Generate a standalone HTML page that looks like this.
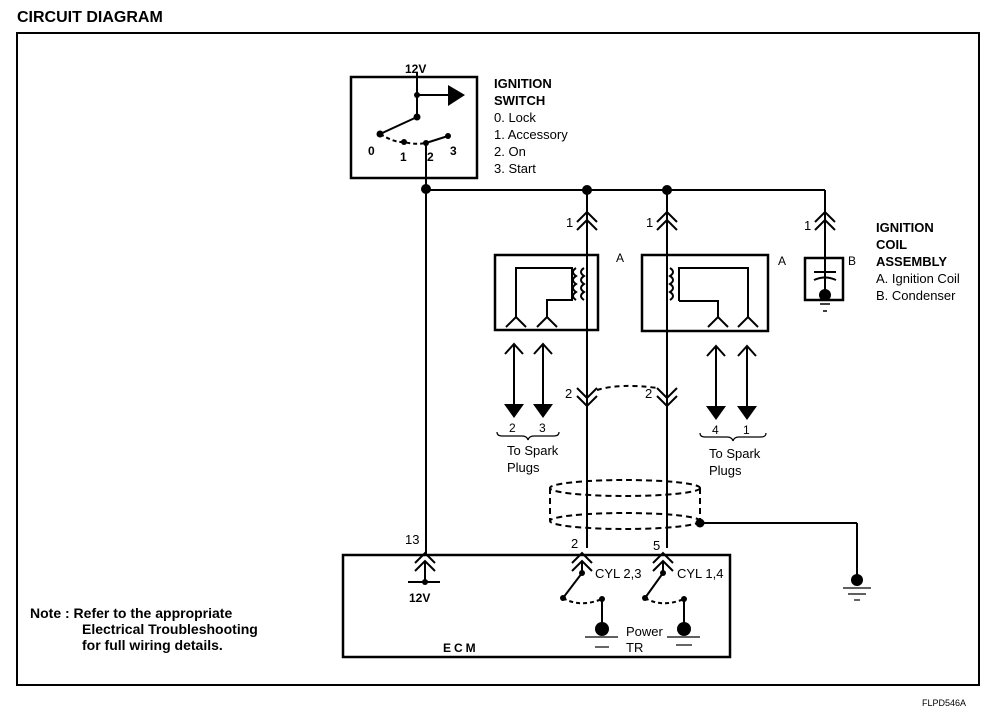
<!DOCTYPE html>
<html><head><style>
body{margin:0;background:#fff}
svg{display:block}
text{font-family:"Liberation Sans",Arial,sans-serif;fill:#000}
</style></head><body>
<svg width="1008" height="728" viewBox="0 0 1008 728" xmlns="http://www.w3.org/2000/svg">
<text x="17" y="22" font-size="16" font-weight="bold">CIRCUIT DIAGRAM</text>
<rect x="17" y="33" width="962" height="652" fill="none" stroke="#000" stroke-width="2"/>
<g stroke="#000" fill="none" stroke-width="2">
<!-- ignition switch -->
<rect x="351" y="77" width="126" height="101" stroke-width="2.5"/>
<line x1="417" y1="72" x2="417" y2="117"/>
<line x1="417" y1="95" x2="450" y2="95"/>
<line x1="417" y1="117" x2="380" y2="134"/>
<path d="M380 134 Q395 143 404 142 Q415 145 426 143" stroke-dasharray="4 3"/>
<line x1="426" y1="143" x2="448" y2="136"/>
<line x1="426" y1="143" x2="426" y2="555"/>
<line x1="426" y1="190" x2="825" y2="190"/>
<line x1="825" y1="190" x2="825" y2="290"/>
<!-- coil wires -->
<line x1="587" y1="190" x2="587" y2="548"/>
<line x1="667" y1="190" x2="667" y2="548"/>
<!-- connectors 1 -->
<path d="M577 222 L587 212 L597 222 M577 230 L587 220 L597 230"/>
<path d="M657 222 L667 212 L677 222 M657 230 L667 220 L677 230"/>
<path d="M815 222 L825 212 L835 222 M815 230 L825 220 L835 230"/>
<!-- connectors 2 -->
<path d="M577 388 L587 398 L597 388 M577 396 L587 406 L597 396"/>
<path d="M657 388 L667 398 L677 388 M657 396 L667 406 L677 396"/>
<path d="M597 390 Q620 383 657 388" stroke-dasharray="5 4"/>
<!-- coil boxes -->
<rect x="495" y="255" width="103" height="75" stroke-width="2.5"/>
<rect x="642" y="255" width="126" height="76" stroke-width="2.5"/>
<path d="M516 318 L516 268 L572 268 L572 300 L547 300 L547 318"/>
<path d="M584 268 q-6 4 0 8 q-6 4 0 8 q-6 4 0 8 q-6 4 0 8" />
<path d="M576 268 q-6 4 0 8 q-6 4 0 8 q-6 4 0 8 q-6 4 0 8" />
<path d="M506 327 L516 317 L526 327 M537 327 L547 317 L557 327"/>
<path d="M670 268 q6 4 0 8 q6 4 0 8 q6 4 0 8 q6 4 0 8"/>
<path d="M679 301 L679 268 L748 268 L748 318 M679 301 L718 301 L718 318"/>
<path d="M708 327 L718 317 L728 327 M738 327 L748 317 L758 327"/>
<!-- condenser -->
<rect x="805" y="258" width="38" height="42" stroke-width="2.5"/>
<line x1="814" y1="272" x2="836" y2="272"/>
<path d="M814 280 Q825 275 836 280"/>
<line x1="820" y1="304" x2="830" y2="304" stroke-width="1.5"/>
<line x1="823" y1="311" x2="827" y2="311" stroke-width="1.5"/>
<!-- spark arrows -->
<line x1="514" y1="344" x2="514" y2="408"/><line x1="543" y1="344" x2="543" y2="408"/>
<line x1="716" y1="346" x2="716" y2="408"/><line x1="747" y1="346" x2="747" y2="408"/>
<path d="M505 354 L514 344 L523 354 M534 354 L543 344 L552 354 M707 356 L716 346 L725 356 M738 356 L747 346 L756 356"/>
<path d="M497 432 q0 4 5 4 l20 0 q5 0 6 4 q1 -4 6 -4 l20 0 q5 0 5 -4" stroke-width="1.2"/>
<path d="M700 433 q0 4 5 4 l22 0 q5 0 6 4 q1 -4 6 -4 l22 0 q5 0 5 -4" stroke-width="1.2"/>
<!-- shield -->
<g stroke-dasharray="6 4">
<ellipse cx="625" cy="488" rx="75" ry="8"/>
<ellipse cx="625" cy="521" rx="75" ry="8"/>
<line x1="550" y1="488" x2="550" y2="521"/>
<line x1="700" y1="488" x2="700" y2="521"/>
</g>
<line x1="700" y1="523" x2="857" y2="523"/>
<line x1="857" y1="523" x2="857" y2="580"/>
<line x1="843" y1="588" x2="871" y2="588" stroke-width="1.2"/>
<line x1="848" y1="594" x2="866" y2="594" stroke-width="1.2"/>
<line x1="854" y1="600" x2="860" y2="600" stroke-width="1.2"/>
<!-- ECM -->
<rect x="343" y="555" width="387" height="102" stroke-width="2.5"/>
<path d="M415 563 L425 553 L435 563 M415 571 L425 561 L435 571"/>
<line x1="425" y1="561" x2="425" y2="581"/>
<line x1="408" y1="582" x2="440" y2="582"/>
<path d="M572 563 L582 553 L592 563 M572 571 L582 561 L592 571"/>
<path d="M653 563 L663 553 L673 563 M653 571 L663 561 L673 571"/>
<line x1="582" y1="561" x2="582" y2="573"/><line x1="663" y1="561" x2="663" y2="573"/>
<line x1="582" y1="573" x2="563" y2="598"/><line x1="663" y1="573" x2="645" y2="598"/>
<path d="M563 598 Q580 608 602 599" stroke-dasharray="4 3"/>
<path d="M645 598 Q662 608 684 599" stroke-dasharray="4 3"/>
<line x1="602" y1="599" x2="602" y2="630"/><line x1="684" y1="599" x2="684" y2="630"/>
<line x1="585" y1="637" x2="618" y2="637" stroke-width="1.2"/>
<line x1="667" y1="637" x2="700" y2="637" stroke-width="1.2"/>
<line x1="595" y1="647" x2="609" y2="647" stroke-width="1.2"/>
<line x1="676" y1="645" x2="692" y2="645" stroke-width="1.2"/>
</g>
<g fill="#000">
<polygon points="448,85 465,95 448,106"/>
<circle cx="417" cy="95" r="3"/><circle cx="417" cy="117" r="3.5"/>
<circle cx="380" cy="134" r="3.5"/><circle cx="404" cy="142" r="3"/><circle cx="426" cy="143" r="3"/><circle cx="448" cy="136" r="3"/>
<circle cx="426" cy="189" r="5"/><circle cx="587" cy="190" r="5"/><circle cx="667" cy="190" r="5"/>
<circle cx="825" cy="295" r="6"/>
<polygon points="504,404 524,404 514,418"/><polygon points="533,404 553,404 543,418"/>
<polygon points="706,406 726,406 716,420"/><polygon points="737,406 757,406 747,420"/>
<circle cx="700" cy="523" r="4.5"/><circle cx="857" cy="580" r="6"/>
<circle cx="425" cy="582" r="3"/>
<circle cx="582" cy="573" r="3"/><circle cx="663" cy="573" r="3"/>
<circle cx="563" cy="598" r="3"/><circle cx="645" cy="598" r="3"/>
<circle cx="602" cy="599" r="3"/><circle cx="684" cy="599" r="3"/>
<circle cx="602" cy="629" r="7"/><circle cx="684" cy="629" r="7"/>
</g>
<g font-size="13">
<text x="405" y="73" font-weight="bold" font-size="12">12V</text>
<text x="368" y="155" font-weight="bold" font-size="12">0</text>
<text x="400" y="161" font-weight="bold" font-size="12">1</text>
<text x="427" y="161" font-weight="bold" font-size="12">2</text>
<text x="450" y="155" font-weight="bold" font-size="12">3</text>
<text x="494" y="88" font-weight="bold">IGNITION</text>
<text x="494" y="105" font-weight="bold">SWITCH</text>
<text x="494" y="122">0. Lock</text>
<text x="494" y="139">1. Accessory</text>
<text x="494" y="156">2. On</text>
<text x="494" y="173">3. Start</text>
<text x="566" y="227">1</text><text x="646" y="227">1</text><text x="804" y="230">1</text>
<text x="616" y="262" font-size="12">A</text><text x="778" y="265" font-size="12">A</text><text x="848" y="265" font-size="12">B</text>
<text x="876" y="232" font-weight="bold">IGNITION</text>
<text x="876" y="249" font-weight="bold">COIL</text>
<text x="876" y="266" font-weight="bold">ASSEMBLY</text>
<text x="876" y="283">A. Ignition Coil</text>
<text x="876" y="300">B. Condenser</text>
<text x="565" y="398">2</text><text x="645" y="398">2</text>
<text x="509" y="432" font-size="12">2</text><text x="539" y="432" font-size="12">3</text>
<text x="712" y="434" font-size="12">4</text><text x="743" y="434" font-size="12">1</text>
<text x="507" y="455">To Spark</text><text x="507" y="472">Plugs</text>
<text x="709" y="458">To Spark</text><text x="709" y="475">Plugs</text>
<text x="405" y="544">13</text><text x="571" y="548">2</text><text x="653" y="550">5</text>
<text x="409" y="602" font-weight="bold" font-size="12">12V</text>
<text x="595" y="578">CYL 2,3</text><text x="677" y="578">CYL 1,4</text>
<text x="626" y="636">Power</text><text x="626" y="652">TR</text>
<text x="443" y="652" font-weight="bold" font-size="12" letter-spacing="3">ECM</text>
<text x="30" y="618" font-weight="bold" font-size="14">Note : Refer to the appropriate</text>
<text x="82" y="634" font-weight="bold" font-size="14">Electrical Troubleshooting</text>
<text x="82" y="650" font-weight="bold" font-size="14">for full wiring details.</text>
<text x="922" y="706" font-size="9">FLPD546A</text>
</g>
</svg>
</body></html>
